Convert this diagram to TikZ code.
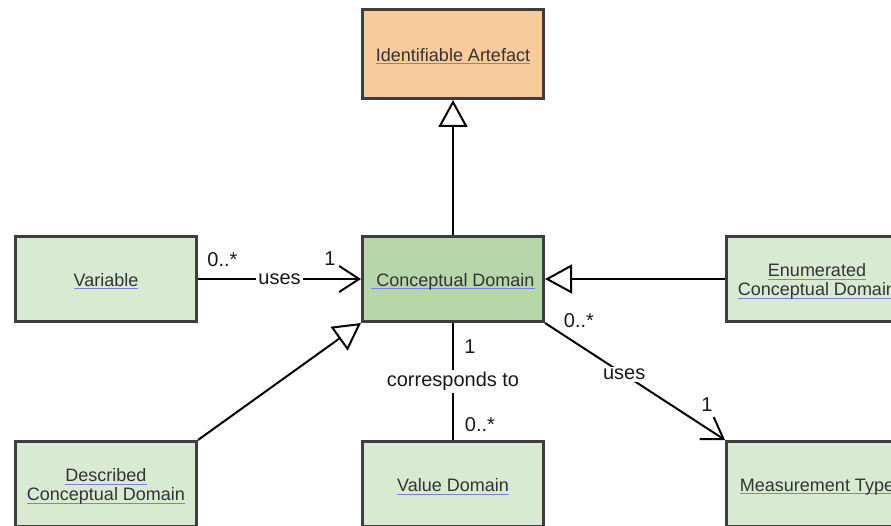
\documentclass[tikz,border=0pt]{standalone}
\usepackage{fontspec}
\setmainfont{Liberation Sans}
\usetikzlibrary{arrows.meta,calc}
\definecolor{boxborder}{HTML}{3E3E3E}
\definecolor{lightgreen}{HTML}{D9EAD3}
\definecolor{midgreen}{HTML}{B6D7A8}
\definecolor{peach}{HTML}{F9CB9C}
\definecolor{linkblue}{HTML}{7C7CF4}
\definecolor{boxtext}{HTML}{333333}
\newcommand\lnk[1]{\setbox0=\hbox{#1}\rlap{\textcolor{linkblue}{\rule[-3pt]{\wd0}{1pt}}}\box0}
\newcommand\upstrut{\rule{0pt}{18pt}}
\tikzset{
  cls/.style={draw=boxborder, line width=3pt, rectangle, minimum width=181pt,
    minimum height=85pt, inner sep=0pt, align=center, text=boxtext,
    font=\fontsize{18}{19}\selectfont},
  sub/.style={cls, fill=lightgreen},
  lbl/.style={font=\fontsize{20}{22}\selectfont, text=black!90, inner sep=1pt},
  midlbl/.style={lbl, fill=white, inner sep=2pt},
  conn/.style={draw=black, line width=2pt},
  gen/.style={conn, -{Triangle[open, length=27pt, width=29pt, fill=white]}},
  assoc/.style={conn, -{Straight Barb[length=20pt, width=26pt]}},
}
\begin{document}
\begin{tikzpicture}[x=1pt,y=-1pt]
\useasboundingbox (0,0) rectangle (891,526);
\clip (0,0) rectangle (891,526);
\node[cls, fill=peach, minimum height=89pt] (ia) at (453,54) {\upstrut\lnk{Identifiable Artefact}};
\node[sub] (var) at (106,279) {\upstrut\lnk{Variable}};
\node[cls, fill=midgreen] (cd) at (453,279) {\upstrut\lnk{\ Conceptual Domain}};
\node[sub] (ecd) at (817,279) {\upstrut\lnk{Enumerated}\\\lnk{Conceptual Domain}};
\node[sub] (dcd) at (106,484) {\upstrut\lnk{Described}\\\lnk{Conceptual Domain}};
\node[sub] (vd) at (453,484) {\upstrut\lnk{Value Domain}};
\node[sub] (mt) at (817,484) {\upstrut\lnk{Measurement Type}};

\draw[gen] (cd.north) -- (ia.south);
\draw[gen] (ecd.west) -- (cd.east);
\draw[gen] (dcd.north east) -- (cd.south west);
\draw[assoc] (var.east) -- node[midlbl]{uses} (cd.west);
\draw[conn] (cd.south) -- node[midlbl]{corresponds to} (vd.north);
\draw[assoc] (cd.south east) -- node[midlbl, pos=0.44]{uses} (mt.north west);

\node[lbl] (l1) at ($(var.east)+(24.5,-19)$) {0..*};
\node[lbl] (l2) at ($(cd.west)+(-31,-20)$) {1};
\node[lbl] (l3) at ($(cd.south)+(17,24)$) {1};
\node[lbl] (l4) at ($(vd.north)+(27,-15)$) {0..*};
\node[lbl] (l5) at ($(cd.south east)+(34,-2)$) {0..*};
\node[lbl] (l6) at ($(mt.north west)+(-18,-35)$) {1};
\end{tikzpicture}
\end{document}
